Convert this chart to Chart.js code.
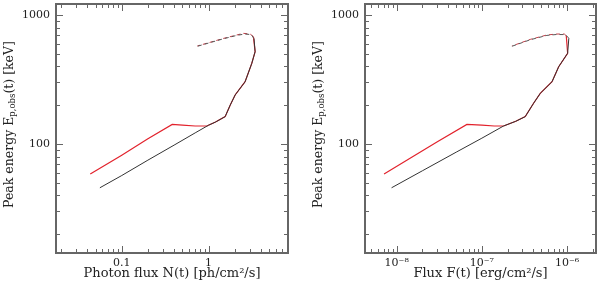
<!DOCTYPE html>
<html><head><meta charset="utf-8">
<script src="https://cdn.jsdelivr.net/npm/chart.js@4.4.0/dist/chart.umd.min.js"></script>
<style>
html,body{margin:0;padding:0;background:#fff;}
#wrap{position:relative;width:600px;height:287px;overflow:hidden;}
.c{position:absolute;top:0;width:300px;height:287px;}
</style></head><body>
<div id="wrap">
<div class="c" style="left:0"><canvas id="c1"></canvas></div>
<div class="c" style="left:300px"><canvas id="c2"></canvas></div>
</div>
<script>
// ---- Left panel: photon flux N(t) [ph/cm2/s] vs Ep,obs [keV]
const redNx = [0.0434, 0.1, 0.2, 0.381, 0.5, 0.7, 0.955, 1.2, 1.55, 1.77, 2.02, 2.63, 3.14, 3.43, 3.28];
const redNy = [58.5, 82, 110, 142, 140, 138, 138, 148, 163, 200, 240, 304, 422, 520, 680];
const blackNx = [0.056, 0.1, 0.2, 0.4, 0.7, 1.0, 1.2, 1.55, 1.77, 2.02, 2.63, 3.14, 3.43, 3.33];
const blackNy = [45.8, 57, 75, 98, 122, 140, 148, 163, 200, 240, 304, 422, 520, 655];
const redDashNx = [3.28, 3.0, 2.5, 2.11, 1.49, 0.74];
const redDashNy = [680, 713, 721, 700, 659, 575];
const blackDashNx = [3.33, 3.1, 2.6, 2.11, 1.49, 0.74];
const blackDashNy = [655, 705, 712, 695, 655, 572];

// ---- Right panel: energy flux F(t) [erg/cm2/s] vs Ep,obs [keV]
const redFx = [7.1e-9, 1.5e-8, 3e-8, 6.67e-8, 1e-7, 1.4e-7, 1.8e-7, 2.5e-7, 3.23e-7, 4.05e-7, 4.85e-7, 6.67e-7, 7.98e-7, 1.017e-6, 9.8e-7];
const redFy = [58.5, 79, 104, 142, 140, 138, 138, 150, 163, 207, 247, 304, 397, 505, 690];
const blackFx = [8.7e-9, 2e-8, 5e-8, 1e-7, 1.8e-7, 2.5e-7, 3.23e-7, 4.05e-7, 4.85e-7, 6.67e-7, 7.98e-7, 1.017e-6, 1.05e-6];
const blackFy = [45.8, 62, 86.5, 111, 138, 150, 163, 207, 247, 304, 397, 505, 660];
const redDashFx = [9.8e-7, 9.3e-7, 7.5e-7, 5.8e-7, 3.7e-7, 2.25e-7];
const redDashFy = [690, 712, 712, 700, 647, 575];
const blackDashFx = [1.05e-6, 9.6e-7, 7.5e-7, 5.8e-7, 3.7e-7, 2.25e-7];
const blackDashFy = [660, 705, 706, 695, 643, 572];

// ---- Axis ticks
const yMajor = [100, 1000];
const yLabels = ['100', '1000'];
const yMinor = [20,30,40,50,60,70,80,90,200,300,400,500,600,700,800,900];
const xMajorN = [0.1, 1];
const xLabelsN = ['0.1', '1'];
const xMinorN = [0.02,0.03,0.04,0.05,0.06,0.07,0.08,0.09,0.2,0.3,0.4,0.5,0.6,0.7,0.8,0.9,2,3,4,5,6,7,8];
const xMajorF = [1e-8, 1e-7, 1e-6];
const xLabelsF = ['10\u207B\u2078', '10\u207B\u2077', '10\u207B\u2076'];
const xMinorF = [5e-9,6e-9,7e-9,8e-9,9e-9,2e-8,3e-8,4e-8,5e-8,6e-8,7e-8,8e-8,9e-8,2e-7,3e-7,4e-7,5e-7,6e-7,7e-7,8e-7,9e-7,2e-6];

const FONT = 'DejaVu Serif';
const TXT = '#222';
const RED = '#e2222c';
const BLK = '#333333';

function pts(xs, ys){ return xs.map((x,i)=>({x:x, y:ys[i]})); }

const frameTicks = {
  id: 'frameTicks',
  afterDraw(chart, args, o){
    const ctx = chart.ctx, ca = chart.chartArea;
    const xs = chart.scales.x, ys = chart.scales.y;
    ctx.save();
    ctx.strokeStyle = '#666';
    ctx.lineWidth = 1;
    function seg(a,b,c,d){ ctx.beginPath(); ctx.moveTo(a,b); ctx.lineTo(c,d); ctx.stroke(); }
    function tx(v,len){ const p = Math.round(xs.getPixelForValue(v)) + 0.5; seg(p, ca.bottom, p, ca.bottom-len); seg(p, ca.top, p, ca.top+len); }
    function ty(v,len){ const p = Math.round(ys.getPixelForValue(v)) + 0.5; seg(ca.left, p, ca.left+len, p); seg(ca.right, p, ca.right-len, p); }
    o.xMajor.forEach(v=>tx(v,7)); o.xMinor.forEach(v=>tx(v,4));
    yMajor.forEach(v=>ty(v,7)); yMinor.forEach(v=>ty(v,4));
    ctx.lineWidth = 2;
    ctx.strokeStyle = '#666';
    ctx.strokeRect(ca.left, ca.top, ca.right-ca.left, ca.bottom-ca.top);
    // y axis title with subscript
    const parts = [
      {t:'Peak energy E', f:'12.5px "'+FONT+'"', dy:0},
      {t:'p,obs', f:'8.5px "'+FONT+'"', dy:3},
      {t:'(t) [keV]', f:'12.5px "'+FONT+'"', dy:0}
    ];
    let total = 0;
    parts.forEach(p=>{ ctx.font = p.f; p.w = ctx.measureText(p.t).width; total += p.w; });
    ctx.translate(o.yTitleX, (ca.top+ca.bottom)/2 - 4);
    ctx.rotate(-Math.PI/2);
    ctx.fillStyle = TXT;
    ctx.textBaseline = 'middle';
    ctx.textAlign = 'left';
    let x = -total/2;
    parts.forEach(p=>{ ctx.font = p.f; ctx.fillText(p.t, x, p.dy); x += p.w; });
    ctx.restore();
  }
};

function makeChart(id, cfg){
  return new Chart(document.getElementById(id), {
    type: 'scatter',
    data: { datasets: [
      {data: pts(cfg.bdx, cfg.bdy), borderColor: '#555', borderWidth: 1, borderDash: [4,3], showLine: true, pointRadius: 0, tension: 0},
      {data: pts(cfg.rdx, cfg.rdy), borderColor: '#c4404a', borderWidth: 1, borderDash: [4,3], showLine: true, pointRadius: 0, tension: 0},
      {data: pts(cfg.bx, cfg.by), borderColor: BLK, borderWidth: 1, showLine: true, pointRadius: 0, tension: 0},
      {data: pts(cfg.rx, cfg.ry), borderColor: RED, borderWidth: 1.2, showLine: true, pointRadius: 0, tension: 0}
    ]},
    options: {
      responsive: true, maintainAspectRatio: false, animation: false,
      layout: { padding: {left: cfg.padL, right: cfg.padR, top: 4, bottom: 6} },
      plugins: { legend: {display: false}, tooltip: {enabled: false},
        frameTicks: { xMajor: cfg.xMajor, xMinor: cfg.xMinor, yTitleX: cfg.yTitleX } },
      scales: {
        x: {
          type: 'logarithmic', min: cfg.xmin, max: cfg.xmax,
          afterBuildTicks(s){ s.ticks = cfg.xMajor.map(v=>({value:v})); },
          afterFit(s){ s.height = 28; s.paddingLeft = 0; s.paddingRight = 0; },
          grid: {display: false, drawTicks: false, tickLength: 0}, border: {display: false},
          ticks: { autoSkip: false, maxRotation: 0, padding: 4, color: TXT,
            font: {family: FONT, size: 11},
            callback: (v, i) => cfg.xLabels[i] },
          title: { display: true, text: cfg.xTitle, color: TXT, padding: 0,
            font: {family: FONT, size: 13} }
        },
        y: {
          type: 'logarithmic', min: 14.3, max: 1217,
          afterBuildTicks(s){ s.ticks = yMajor.map(v=>({value:v})); },
          afterFit(s){ s.width = cfg.yW; s.paddingTop = 0; s.paddingBottom = 0; },
          grid: {display: false, drawTicks: false, tickLength: 0}, border: {display: false},
          ticks: { autoSkip: false, padding: 6, color: TXT,
            font: {family: FONT, size: 11},
            callback: (v, i) => yLabels[i] }
        }
      }
    },
    plugins: [frameTicks]
  });
}

makeChart('c1', {
  rx: redNx, ry: redNy, bx: blackNx, by: blackNy,
  rdx: redDashNx, rdy: redDashNy, bdx: blackDashNx, bdy: blackDashNy,
  xmin: 0.0175, xmax: 8.2, xMajor: xMajorN, xLabels: xLabelsN, xMinor: xMinorN,
  xTitle: 'Photon flux N(t) [ph/cm\u00B2/s]', padL: 0, padR: 12, yW: 56, yTitleX: 10
});
makeChart('c2', {
  rx: redFx, ry: redFy, bx: blackFx, by: blackFy,
  rdx: redDashFx, rdy: redDashFy, bdx: blackDashFx, bdy: blackDashFy,
  xmin: 4.24e-9, xmax: 2.19e-6, xMajor: xMajorF, xLabels: xLabelsF, xMinor: xMinorF,
  xTitle: 'Flux F(t) [erg/cm\u00B2/s]', padL: 0, padR: 4, yW: 65, yTitleX: 19
});
</script>
</body></html>
